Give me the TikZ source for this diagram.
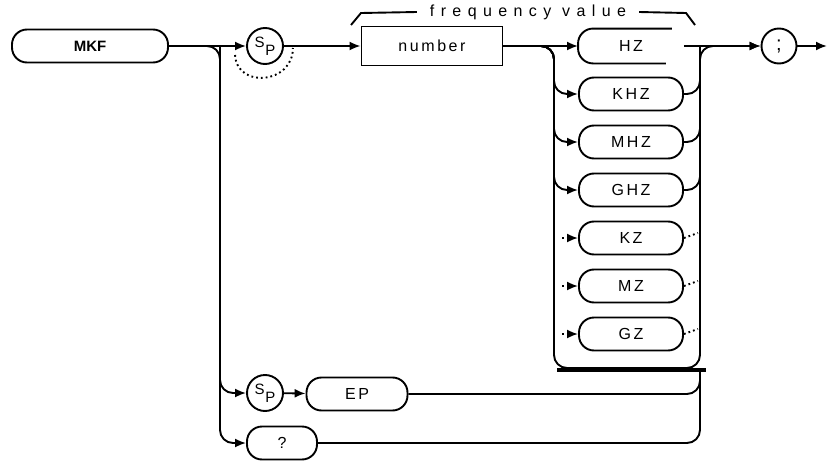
\documentclass[tikz,border=0pt]{standalone}
\usepackage{fontspec}
\setmainfont{Liberation Sans}
\newfontfamily\plotfont[LetterSpace=16]{Liberation Sans}
\newfontfamily\widefont[LetterSpace=40]{Liberation Sans}
\usetikzlibrary{arrows.meta, positioning}
\newcommand\spchar{{\fontsize{15}{15}\selectfont\raisebox{3.5pt}{S}\kern0.5pt\raisebox{-4.5pt}{P}}}

\begin{document}
\begin{tikzpicture}[
  x=1pt, y=-1pt,
  line width=1.9pt,
  font={\plotfont\fontsize{16}{18}\selectfont},
  >={Latex[length=11pt,width=9pt]},
  keyword/.style={draw, rounded corners=15pt, minimum width=104pt, minimum height=33pt, inner sep=0pt},
  loopcircle/.style={draw, circle, minimum size=36pt, inner sep=0pt},
  numbox/.style={draw, rectangle, minimum width=141pt, minimum height=39pt},
  bus/.style={rounded corners=13pt},
  dots/.style={dash pattern=on 1.8pt off 3pt}
]
\useasboundingbox (0,0) rectangle (828,463);
\def\unitsep{48}
% command and first parameter
\node[keyword, minimum width=156pt, font={\rmfamily\bfseries\fontsize{15}{17}\selectfont}] (mkf) at (90,46) {MKF};
\node[loopcircle] (sp1) at (265,46) {\spchar};
\node[numbox] (num) at (432,46) {number};
\node[font={\widefont\fontsize{16}{18}\selectfont}, inner xsep=12pt] (freq) at (528,12) {frequency value};
% units
\node[keyword, draw=none] (hz) at (631,46) {HZ};
\foreach \nm/\txt [count=\i] in {khz/KHZ, mhz/MHZ, ghz/GHZ, kz/KZ, mz/MZ, gz/GZ}
  \node[keyword] (\nm) at (631,46+\i*\unitsep) {\txt};
\node[loopcircle, minimum size=35pt, font={\fontsize{20}{20}\selectfont}] (semi) at (779,46) {;};
% lower branches
\node[loopcircle] (sp2) at (265,393) {\spchar};
\node[keyword, minimum width=101pt] (ep) at (357,394) {EP};
\node[keyword, minimum width=70pt] (qry) at (282,443) {?};

\coordinate (lbus) at (220,46);
\coordinate (ubus) at (554,46);
\coordinate (rbus) at (700,368);
\coordinate (rtop) at (700,46);
\coordinate (out) at (827,46);
\coordinate (brl) at (351,25);
\coordinate (brr) at (695,25);
\coordinate (barl) at (557,370);
\coordinate (barr) at (706,370);

\draw[rounded corners=15pt] ([xshift=-12pt]hz.north east) -- (hz.north west) -- (hz.south west) -- ([xshift=-18pt]hz.south east);
\draw (brl) -- ++(10,-12) -- (freq.west);
\draw (brr) -- ++(-9,-12) -- (freq.east);

\draw[->] (mkf) -- (sp1);
\draw[->] (sp1) -- (num);
\draw[dots] ([xshift=-11pt,yshift=-9pt]sp1.west) .. controls +(2,34) and +(0,36) .. ([xshift=9pt,yshift=-2pt]sp1.east);
\draw[bus, ->] (mkf.east) -- (lbus) |- (sp2.west);
\draw[bus, ->] (lbus) |- (qry.west);
\draw[->] (sp2) -- (ep);
\draw[bus] (ep.east) -| (rbus);
\draw[bus] (qry.east) -| (rbus);

\draw[->] (num.east) -- (hz.west);
\draw[bus, ->] (num.east) -- (ubus) |- (rbus) |- (semi.west);
\foreach \nm in {khz, mhz, ghz} {
  \draw[bus, ->] (num.east) -- (ubus) |- (\nm.west);
  \draw[bus] (\nm.east) -| (rtop);
}
\foreach \nm in {kz, mz, gz} {
  \draw[dots, ->] ([xshift=-16pt]\nm.west) -- (\nm.west);
  \draw[dots] (\nm.east) -- +(14,-5);
}
\draw[line width=3.5pt] (barl) -- (barr);
\draw[->] (hz.east) -- (semi.west);
\draw[->] (semi) -- (out);
\end{tikzpicture}
\end{document}
